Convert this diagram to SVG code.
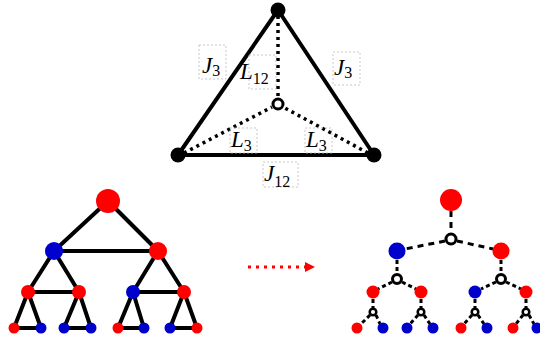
<svg xmlns="http://www.w3.org/2000/svg" width="540" height="343" viewBox="0 0 540 343">
<style>
.solid{stroke:#000;stroke-width:4;fill:none;stroke-linecap:round}
.dot{stroke:#000;stroke-width:3.5;fill:none;stroke-dasharray:3 4}
.dash{stroke:#000;stroke-width:3;fill:none;stroke-dasharray:6 5}
.dsh{stroke:#000;stroke-width:3;fill:none;stroke-dasharray:4 3}
.box{fill:none;stroke:#bbb;stroke-width:0.8;stroke-dasharray:2 2}
.lbl{font-family:"Liberation Serif",serif;font-size:23px;fill:#000}
.it{font-style:italic}
.sub{font-size:16px}
.r{fill:#f00}
.b{fill:#00c}
.k{fill:#000}
.h{fill:#fff;stroke:#000;stroke-width:3}
.hs{fill:#fff;stroke:#000;stroke-width:2.5}
</style>
<defs>
<marker id="arr" viewBox="0 0 10 10" refX="0" refY="5" markerWidth="10" markerHeight="10" markerUnits="userSpaceOnUse" orient="auto">
<path d="M0,0 L10,5 L0,10 Z" fill="#f00"/>
</marker>
</defs>
<g id="connectors">
<!-- triangle -->
<line class="solid" x1="278" y1="10" x2="178" y2="155"/>
<line class="solid" x1="278" y1="10" x2="374" y2="155"/>
<line class="solid" x1="178" y1="155" x2="374" y2="155"/>
<line class="dot" x1="278" y1="16" x2="278" y2="99"/>
<line class="dot" x1="184" y1="153" x2="272" y2="107"/>
<line class="dot" x1="368" y1="153" x2="283" y2="107"/>
<!-- left tree -->
<line class="solid" x1="108" y1="201" x2="54" y2="251"/>
<line class="solid" x1="108" y1="201" x2="158" y2="251"/>
<line class="solid" x1="54" y1="251" x2="158" y2="251"/>
<line class="solid" x1="54" y1="251" x2="28" y2="292"/>
<line class="solid" x1="54" y1="251" x2="79" y2="292"/>
<line class="solid" x1="28" y1="292" x2="79" y2="292"/>
<line class="solid" x1="158" y1="251" x2="133" y2="292"/>
<line class="solid" x1="158" y1="251" x2="184" y2="292"/>
<line class="solid" x1="133" y1="292" x2="184" y2="292"/>
<line class="solid" x1="28" y1="292" x2="14" y2="328"/>
<line class="solid" x1="28" y1="292" x2="41" y2="328"/>
<line class="solid" x1="14" y1="328" x2="41" y2="328"/>
<line class="solid" x1="79" y1="292" x2="64" y2="328"/>
<line class="solid" x1="79" y1="292" x2="91" y2="328"/>
<line class="solid" x1="64" y1="328" x2="91" y2="328"/>
<line class="solid" x1="133" y1="292" x2="118" y2="328"/>
<line class="solid" x1="133" y1="292" x2="144" y2="328"/>
<line class="solid" x1="118" y1="328" x2="144" y2="328"/>
<line class="solid" x1="184" y1="292" x2="170" y2="328"/>
<line class="solid" x1="184" y1="292" x2="197" y2="328"/>
<line class="solid" x1="170" y1="328" x2="197" y2="328"/>
<!-- arrow -->
<line x1="248" y1="267" x2="305" y2="267" stroke="#f00" stroke-width="3" stroke-dasharray="3 5" marker-end="url(#arr)"/>
<!-- right tree -->
<line class="dash" x1="451" y1="211" x2="451" y2="233"/>
<line class="dash" x1="445" y1="241" x2="405" y2="249"/>
<line class="dash" x1="457" y1="241" x2="493" y2="249"/>
<line class="dsh" x1="397" y1="260" x2="397" y2="274"/>
<line class="dsh" x1="392" y1="282" x2="378" y2="289"/>
<line class="dsh" x1="402" y1="282" x2="416" y2="289"/>
<line class="dsh" x1="501" y1="260" x2="501" y2="274"/>
<line class="dsh" x1="496" y1="282" x2="481" y2="289"/>
<line class="dsh" x1="506" y1="282" x2="521" y2="289"/>
<line class="dsh" x1="373" y1="299" x2="373" y2="308"/>
<line class="dsh" x1="370" y1="315" x2="360" y2="325"/>
<line class="dsh" x1="376" y1="315" x2="380" y2="324"/>
<line class="dsh" x1="421" y1="299" x2="421" y2="308"/>
<line class="dsh" x1="418" y1="315" x2="410" y2="324"/>
<line class="dsh" x1="424" y1="315" x2="430" y2="324"/>
<line class="dsh" x1="475" y1="299" x2="475" y2="308"/>
<line class="dsh" x1="472" y1="315" x2="464" y2="324"/>
<line class="dsh" x1="478" y1="315" x2="484" y2="324"/>
<line class="dsh" x1="526" y1="299" x2="526" y2="308"/>
<line class="dsh" x1="523" y1="315" x2="516" y2="324"/>
<line class="dsh" x1="529" y1="315" x2="534" y2="324"/>
</g>
<g id="tri-top"><circle class="k" cx="278" cy="10" r="7.5"/></g>
<g id="tri-left"><circle class="k" cx="178" cy="155" r="7.5"/></g>
<g id="tri-right"><circle class="k" cx="374" cy="155" r="7.5"/></g>
<g id="tri-center"><circle class="h" cx="278" cy="104" r="5"/></g>
<g id="labels">
<rect class="box" x="199" y="45" width="27" height="34"/>
<text class="lbl" x="202" y="73"><tspan class="it">J</tspan><tspan class="sub" dy="3">3</tspan></text>
<rect class="box" x="249" y="55" width="27" height="34"/>
<text class="lbl" x="240" y="79"><tspan class="it">L</tspan><tspan class="sub" dy="5">12</tspan></text>
<rect class="box" x="333" y="52" width="27" height="33"/>
<text class="lbl" x="334" y="75"><tspan class="it">J</tspan><tspan class="sub" dy="3">3</tspan></text>
<rect class="box" x="230" y="128" width="27" height="25"/>
<text class="lbl" x="231" y="147"><tspan class="it">L</tspan><tspan class="sub" dy="4">3</tspan></text>
<rect class="box" x="305" y="128" width="27" height="25"/>
<text class="lbl" x="306" y="147"><tspan class="it">L</tspan><tspan class="sub" dy="4">3</tspan></text>
<rect class="box" x="263" y="162" width="35" height="25"/>
<text class="lbl" x="264" y="181"><tspan class="it">J</tspan><tspan class="sub" dy="6">12</tspan></text>
</g>
<g id="left-tree">
<g id="L0"><circle class="r" cx="108" cy="201" r="12"/></g>
<g id="L1a"><circle class="b" cx="54" cy="251" r="9"/></g>
<g id="L1b"><circle class="r" cx="158" cy="251" r="9"/></g>
<g id="L2a"><circle class="r" cx="28" cy="292" r="7"/></g>
<g id="L2b"><circle class="r" cx="79" cy="292" r="7"/></g>
<g id="L2c"><circle class="b" cx="133" cy="292" r="7"/></g>
<g id="L2d"><circle class="r" cx="184" cy="292" r="7"/></g>
<g id="L3a"><circle class="r" cx="14" cy="328" r="5.5"/></g>
<g id="L3b"><circle class="b" cx="41" cy="328" r="5.5"/></g>
<g id="L3c"><circle class="b" cx="64" cy="328" r="5.5"/></g>
<g id="L3d"><circle class="b" cx="91" cy="328" r="5.5"/></g>
<g id="L3e"><circle class="r" cx="118" cy="328" r="5.5"/></g>
<g id="L3f"><circle class="b" cx="144" cy="328" r="5.5"/></g>
<g id="L3g"><circle class="b" cx="170" cy="328" r="5.5"/></g>
<g id="L3h"><circle class="r" cx="197" cy="328" r="5.5"/></g>
</g>
<g id="right-tree">
<g id="R0"><circle class="r" cx="451" cy="200" r="11"/></g>
<g id="Rh0"><circle class="h" cx="451" cy="239" r="5"/></g>
<g id="R1a"><circle class="b" cx="397" cy="251" r="8.5"/></g>
<g id="R1b"><circle class="r" cx="501" cy="251" r="8.5"/></g>
<g id="Rh1a"><circle class="h" cx="397" cy="279" r="4.5"/></g>
<g id="Rh1b"><circle class="h" cx="501" cy="279" r="4.5"/></g>
<g id="R2a"><circle class="r" cx="373" cy="292" r="6.5"/></g>
<g id="R2b"><circle class="r" cx="421" cy="292" r="6.5"/></g>
<g id="R2c"><circle class="b" cx="475" cy="292" r="6.5"/></g>
<g id="R2d"><circle class="r" cx="526" cy="292" r="6.5"/></g>
<g id="Rh2a"><circle class="hs" cx="373" cy="312" r="3.3"/></g>
<g id="Rh2b"><circle class="hs" cx="421" cy="312" r="3.3"/></g>
<g id="Rh2c"><circle class="hs" cx="475" cy="312" r="3.3"/></g>
<g id="Rh2d"><circle class="hs" cx="526" cy="312" r="3.3"/></g>
<g id="R3a"><circle class="r" cx="357" cy="328" r="5.5"/></g>
<g id="R3b"><circle class="b" cx="383" cy="328" r="5.5"/></g>
<g id="R3c"><circle class="b" cx="407" cy="328" r="5.5"/></g>
<g id="R3d"><circle class="b" cx="433" cy="328" r="5.5"/></g>
<g id="R3e"><circle class="r" cx="461" cy="328" r="5.5"/></g>
<g id="R3f"><circle class="b" cx="487" cy="328" r="5.5"/></g>
<g id="R3g"><circle class="r" cx="513" cy="328" r="5.5"/></g>
<g id="R3h"><circle class="b" cx="537" cy="328" r="5.5"/></g>
</g>
</svg>
